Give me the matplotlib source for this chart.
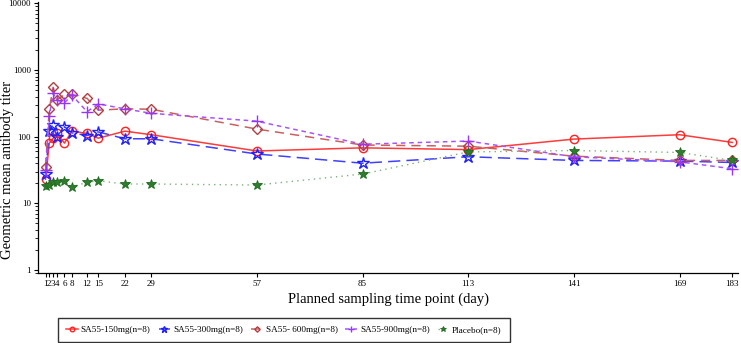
import numpy as np
import matplotlib
matplotlib.use("Agg")
import matplotlib.pyplot as plt
from matplotlib.ticker import LogLocator, NullFormatter, FixedLocator

plt.rcParams['font.family'] = ['Liberation Serif', 'DejaVu Serif']

days = [1, 2, 3, 4, 6, 8, 12, 15, 22, 29, 57, 85, 113, 141, 169, 183]

gmt_150 = [23, 80, 94, 112, 80, 121, 112, 95, 121, 107, 61, 68, 64, 92, 107, 82]
gmt_300 = [28, 121, 149, 100, 141, 114, 104, 118, 93, 93, 55, 40, 50, 44, 43, 41]
gmt_600 = [35, 262, 550, 355, 430, 430, 376, 250, 262, 258, 130, 75, 72, 51, 44, 44]
gmt_900 = [32, 204, 447, 355, 323, 420, 237, 310, 262, 224, 171, 77, 86, 50, 42, 33]
gmt_placebo = [18.2, 18.8, 20.6, 20.6, 21.3, 17.7, 20.6, 21.8, 19.5, 19.5, 18.8, 27.5, 59, 62, 58, 44]

labels = ['SA55-150mg(n=8)', 'SA55-300mg(n=8)', 'SA55- 600mg(n=8)',
          'SA55-900mg(n=8)', 'Placebo(n=8)']

fig = plt.figure(figsize=(7.41, 3.43), dpi=100)
ax = fig.add_axes([38 / 741, 70 / 343, 700 / 741, 271 / 343])

ax.plot(days, gmt_150, color='#ff3b3b', lw=1.1, ls='-', marker='o', ms=6,
        mfc='none', mec='#ff2020', mew=1.0, label=labels[0])
ax.plot(days, gmt_300, color='#4040ff', lw=1.1, ls=(0, (8, 4)), marker='*', ms=9,
        mfc='none', mec='#2020ff', mew=1.0, label=labels[1])
ax.plot(days, gmt_600, color='#c86060', lw=1.1, ls=(0, (6, 4)), marker='D', ms=5,
        mfc='none', mec='#b04040', mew=1.0, label=labels[2])
ax.plot(days, gmt_900, color='#a855f7', lw=1.1, ls=(0, (3, 2.5)), marker='+', ms=8,
        mec='#9933ff', mew=1.0, label=labels[3])
ax.plot(days, gmt_placebo, color='#7fb07f', lw=1.0, ls=(0, (1, 3)), marker='*', ms=7,
        mfc='#2e7d2e', mec='#1f6b1f', mew=0.6, label=labels[4])

ax.set_yscale('log')
ax.set_ylim(0.9, 10500)
ax.set_xlim(-1, 184.5)
ax.yaxis.set_minor_locator(LogLocator(base=10, subs=np.arange(2, 10), numticks=10))
ax.yaxis.set_minor_formatter(NullFormatter())
ax.set_yticks([1, 10, 100, 1000, 10000])
ax.set_yticklabels(['1', '10', '100', '1000', '10000'])
ax.xaxis.set_major_locator(FixedLocator(days))
ax.set_xticklabels([str(d) for d in days])
ax.tick_params(axis='both', labelsize=6.5, direction='out', length=3, width=0.8, pad=2)
ax.tick_params(axis='y', which='minor', length=2, width=0.6)

for s in ['top', 'right']:
    ax.spines[s].set_visible(False)
for s in ['left', 'bottom']:
    ax.spines[s].set_linewidth(0.9)

ax.set_ylabel('Geometric mean antibody titer', fontsize=10.5)
ax.yaxis.set_label_coords(-0.034, 0.38)
ax.set_xlabel('Planned sampling time point (day)', fontsize=10.5, labelpad=3)

leg = fig.legend(loc='center', bbox_to_anchor=(284 / 741, 13 / 343), ncol=5,
                 fontsize=6.6, frameon=True, fancybox=False, edgecolor='black',
                 handlelength=1.3, handletextpad=0.3, columnspacing=0.85,
                 borderpad=0.9, markerscale=0.55)
leg.get_frame().set_linewidth(1.0)

fig.savefig('out.png', dpi=100)
